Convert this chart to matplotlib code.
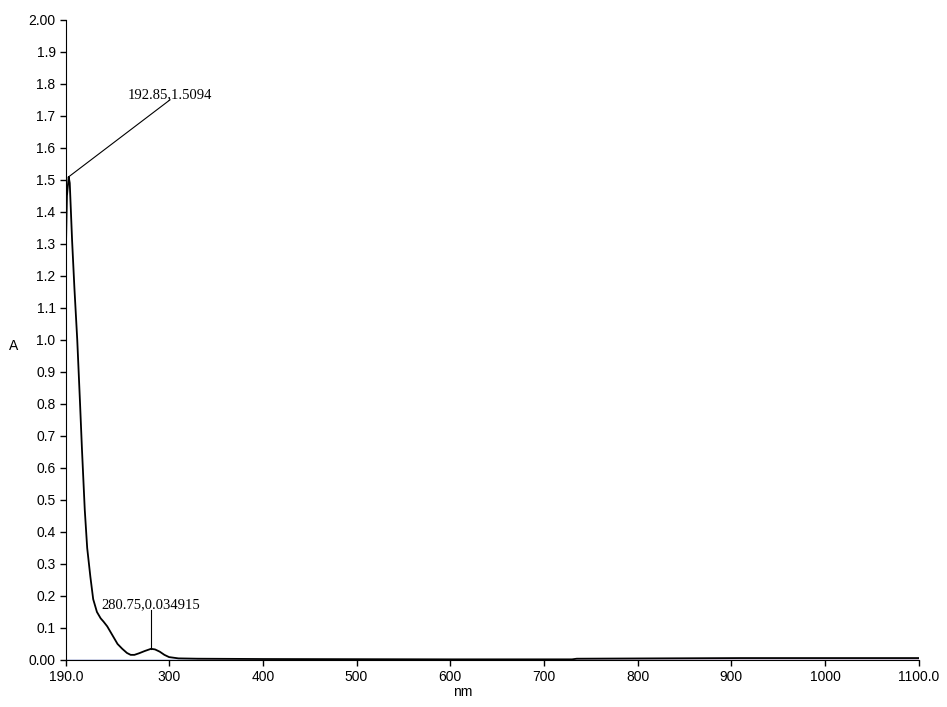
import matplotlib.pyplot as plt
import numpy as np

# === Data ===
wavelength = [190, 191, 192.85, 194, 196.5, 199, 202, 205, 207, 210, 212.6, 216, 219,
              223, 227, 230, 234, 237, 241, 245, 250, 255, 259, 263, 268, 274, 280.75,
              285, 290, 295, 300, 310, 330, 400, 600, 730, 735, 820, 910, 1100]
absorbance = [1.30, 1.45, 1.5094, 1.49, 1.31, 1.16, 1.00, 0.80, 0.66, 0.47, 0.35, 0.26, 0.19,
              0.15, 0.13, 0.12, 0.105, 0.09, 0.07, 0.05, 0.035, 0.022, 0.016, 0.016, 0.021,
              0.028, 0.034915, 0.033, 0.026, 0.016, 0.009, 0.005, 0.004, 0.003, 0.002,
              0.002, 0.004, 0.005, 0.006, 0.006]

peaks = [(192.85, 1.5094), (280.75, 0.034915)]
peak_labels = ["192.85,1.5094", "280.75,0.034915"]
label_pos = [(301, 1.75), (280.75, 0.155)]

xticks = [190, 300, 400, 500, 600, 700, 800, 900, 1000, 1100]
xticklabels = ["190.0", "300", "400", "500", "600", "700", "800", "900", "1000", "1100.0"]
yticks = np.round(np.arange(0, 2.01, 0.1), 2)
yticklabels = ["0.00"] + [f"{v:.1f}" for v in yticks[1:-1]] + ["2.00"]

# === Figure ===
fig = plt.figure(figsize=(9.47, 7.07), dpi=100)
ax = fig.add_axes([0.0697, 0.0665, 0.9005, 0.9055])

# faint baseline traces (blue / red) under the spectrum
ax.plot([190, 1100], [0.0, 0.0], color="#3050c0", lw=1.0)
ax.plot([330, 1100], [0.0015, 0.0015], color="#c03040", lw=0.9)
ax.plot(wavelength, absorbance, color="black", lw=1.3)

# === Peak annotations ===
for (px, py), txt, (tx, ty) in zip(peaks, peak_labels, label_pos):
    ax.plot([px, tx], [py, ty], color="black", lw=0.8)
    ax.text(tx, ty - 0.004, txt, ha="center", va="bottom",
            fontsize=10.5, family="Liberation Serif")

# === Formatting ===
ax.set_xlim(190, 1100)
ax.set_ylim(0, 2.0)
ax.set_xticks(xticks)
ax.set_xticklabels(xticklabels, fontsize=10, family="Liberation Sans")
ax.set_yticks(yticks)
ax.set_yticklabels(yticklabels, fontsize=10, family="Liberation Sans")
ax.tick_params(direction="out", length=4, width=1)
ax.spines["top"].set_visible(False)
ax.spines["right"].set_visible(False)

fig.text(14 / 947, 1 - 346 / 707, "A", fontsize=10, family="Liberation Sans",
         ha="center", va="center")
fig.text(463 / 947, 1 - 692 / 707, "nm", fontsize=10, family="Liberation Sans",
         ha="center", va="center")

fig.savefig("out.png", dpi=100)
